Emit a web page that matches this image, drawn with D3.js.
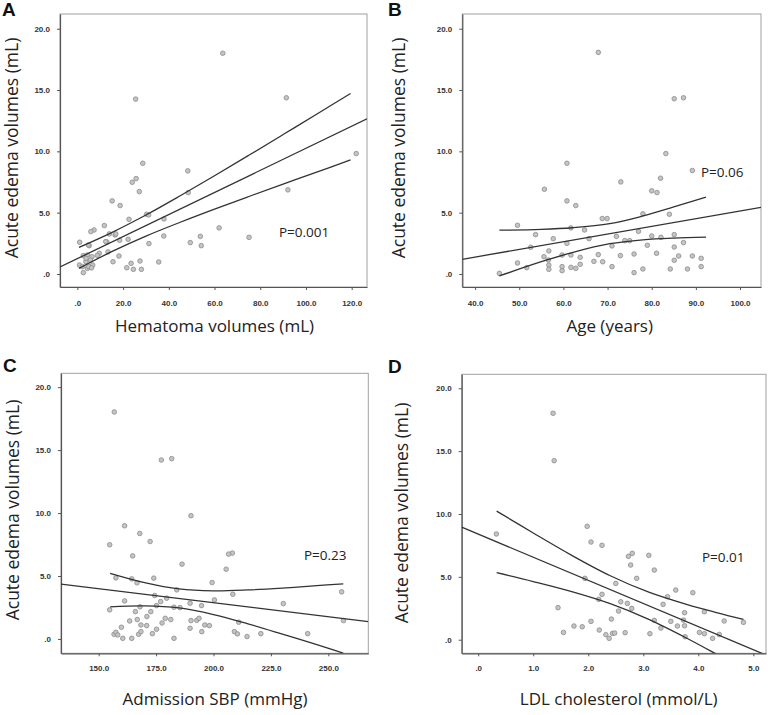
<!DOCTYPE html>
<html><head><meta charset="utf-8">
<script src="https://cdn.jsdelivr.net/npm/d3@7"></script>
<style>body{margin:0;background:#fff}svg{display:block}</style></head>
<body><svg id="chart" width="770" height="715"></svg>
<script>
// ---------------- DATA ----------------
// Panel A: Hematoma volumes (mL) vs acute edema volumes (mL)
const hematomaVol = [63.6,25.5,91.4,122,48.3,28.6,25.7,24.0,27.1,48.5,92.1,15.2,18.7,30.3,31.2,22.6,37.9,11.8,62.0,7.3,5.9,75.1,53.8,54.2,37.8,49.4,31.3,1.0,14.0,16.5,5.2,12.9,22.2,18.5,2.6,4.4,9.6,13.4,18.2,6.4,8.7,15.6,27.4,35.6,0.9,21.6,23.5,24.5,28.0,2.6,4.4,5.0,2.2,6.7,3.7,5.7,3.8,6.2,4.8,16.8,12.4];
const edemaA      = [18.0,14.26,14.37,9.82,8.41,9.03,7.78,7.48,6.72,6.64,6.86,5.96,5.58,4.87,4.82,4.46,4.49,3.95,3.76,3.59,3.46,2.99,3.07,2.31,3.1,2.56,2.48,2.59,3.27,3.18,2.31,2.61,2.83,2.75,1.5,1.55,1.69,1.8,1.47,1.41,1.52,1.0,1.06,0.98,0.73,0.51,0.87,0.38,0.38,0.11,0.46,0.6,0.6,0.73,1.0,1.14,1.28,0.5,2.37,3.27,2.64];
const fitA = [[-7.6,0.57],[126.7,12.65]];
const ciAx = [0.7,15,30,45,60,75,90,105,119.5];
const ciAhi = [2.17,3.38,4.81,6.38,8.01,9.68,11.37,13.07,14.72];
const ciAlo = [0.46,1.82,3.09,4.22,5.29,6.32,7.33,8.33,9.30];

// Panel B: Age (years)
const ageYears = [67.9,85.1,87.2,83.2,60.8,89.2,82.0,73.0,55.7,80.0,81.2,60.8,62.8,78.0,84.0,68.8,69.9,49.6,61.7,64.8,77.0,53.7,85.1,82.1,80.0,72.0,57.7,65.8,73.9,75.0,60.8,87.2,52.6,85.1,79.0,71.0,56.7,56.6,55.6,61.7,59.7,63.8,67.9,72.9,76.0,81.1,86.1,89.2,91.2,49.6,66.9,68.9,85.1,56.7,51.7,56.7,59.7,61.7,62.8,63.8,59.7,71.0,78.0,84.2,88.1,91.2,76.0,45.5];
const edemaB   = [18.07,14.29,14.37,9.82,9.03,8.44,7.81,7.51,6.91,6.78,6.64,5.96,5.58,4.9,4.87,4.52,4.52,3.97,3.76,3.59,3.48,3.21,3.21,2.99,3.1,3.07,2.88,2.88,2.72,2.72,2.5,2.56,2.18,2.2,2.34,2.29,1.88,1.14,1.41,1.55,1.55,1.36,1.58,1.5,1.63,1.69,1.47,1.47,1.28,0.9,1.03,1.0,1.12,0.73,0.52,0.38,0.6,0.54,0.46,0.79,0.27,0.6,0.41,0.41,0.41,0.6,0.11,0.05];
const fitB = [[37.1,1.2],[104.75,5.44]];
const ciBx = [45.5,55,62,70.5,78,85,92.3];
const ciBhi = [3.57,3.64,3.77,4.1,4.73,5.47,6.26];
const ciBlo = [-0.16,1.0,1.75,2.47,2.79,2.93,3.0];

// Panel C: Admission SBP (mmHg)
const sbp    = [156.8,177.3,181.8,190.2,161.3,167.9,172.4,208.2,206.6,154.8,164.8,186.3,205.5,157.5,164.4,166.7,174.0,199.4,184.0,174.4,208.4,255.8,179.6,177.0,200.4,161.3,189.8,194.8,230.4,175.2,168.0,185.4,182.8,154.8,166.0,172.7,166.8,171.0,163.5,159.9,179.0,181.4,168.4,170.9,177.6,190.2,192.7,193.7,196.2,198.2,211.0,256.6,175.2,189.8,194.9,173.4,167.4,168.4,156.7,157.5,158.3,160.5,164.4,182.8,209.1,210.4,214.6,220.6,241.0];
const edemaC = [18.03,14.21,14.32,9.79,8.99,8.38,7.74,6.82,6.74,7.48,6.6,5.94,5.54,4.85,4.77,4.46,4.83,4.48,3.9,3.45,3.55,3.74,3.24,2.97,3.1,3.02,2.84,2.65,2.81,2.65,2.55,2.49,2.52,2.31,2.17,2.17,1.54,1.78,1.43,0.93,1.64,1.54,1.11,1.06,1.27,1.46,1.48,1.64,1.11,1.06,1.33,1.46,0.77,0.85,0.58,0.42,0.37,0.58,0.37,0.53,0.32,0.05,0.05,0.05,0.58,0.4,0.19,0.42,0.42];
const fitC = [[133.6,4.35],[267.4,1.38]];
const ciCx = [155,170,185,200,215,230,245,256.5];
const ciChi = [5.21,4.47,3.97,3.82,3.89,4.04,4.23,4.38];
const ciClo = [2.55,2.62,2.46,1.94,1.20,0.38,-0.46,-1.12];

// Panel D: LDL cholesterol (mmol/L)
const ldl    = [1.36,1.38,0.33,1.98,2.05,2.25,2.73,2.8,2.77,3.10,3.2,2.88,1.94,2.5,3.59,3.9,3.44,2.25,2.19,2.59,2.71,3.36,1.45,2.79,2.55,3.75,4.11,2.42,2.05,3.2,3.5,3.73,4.47,4.82,1.74,1.89,2.2,3.62,3.75,3.32,1.55,2.44,2.48,2.67,3.12,4.02,4.11,2.32,2.38,3.76,4.26,4.38];
const edemaD = [18.01,14.24,8.41,9.02,7.77,7.51,6.63,6.87,5.94,6.71,5.54,4.88,4.88,4.48,3.95,3.74,3.42,3.61,3.21,3.02,2.89,2.81,2.55,2.49,2.28,2.15,2.23,1.64,1.46,1.54,1.46,1.56,1.49,1.38,1.09,1.03,0.77,1.09,1.11,0.93,0.58,0.5,0.53,0.56,0.48,0.58,0.48,0.4,0.11,0.24,0.11,0.42];
const fitD = [[-0.30,8.95],[5.23,-1.22]];
const ciDxHi = [0.335,1.0,1.7,2.4,3.1,3.8,4.33,4.82];
const ciDhi  = [10.23,8.49,6.71,5.09,3.78,2.79,2.16,1.62];
const ciDxLo = [0.335,1.0,1.7,2.4,3.1,3.8,4.33,4.6];
const ciDlo  = [5.33,4.63,3.83,2.87,1.62,0.10,-1.15,-1.8];

// Tick labels
const yTicks = [0,5,10,15,20];
const xTicksA = [0,20,40,60,80,100,120];
const xTicksB = [40,50,60,70,80,90,100];
const xTicksC = [150,175,200,225,250];
const xTicksD = [0,1,2,3,4,5];

// ---------------- LAYOUT ----------------
const panels = [
  {id:'A', letter:[2,16], frame:[60,367,14,287], xd:[-7.6,126.7], yd:[-1.06,21.2],
   xs:hematomaVol, ys:edemaA, fit:fitA, hi:[ciAx,ciAhi], lo:[ciAx,ciAlo], xt:xTicksA,
   xlabel:'Hematoma volumes (mL)', xlab:[214.5,332], ylab:[18,148], p:'P=0.001', pp:[279,237], xpad:10},
  {id:'B', letter:[388,16], frame:[462.3,761,14,287], xd:[37.1,104.75], yd:[-1.06,21.2],
   xs:ageYears, ys:edemaB, fit:fitB, hi:[ciBx,ciBhi], lo:[ciBx,ciBlo], xt:xTicksB,
   xlabel:'Age (years)', xlab:[609.7,332], ylab:[405,148], p:'P=0.06', pp:[701,177], xpad:10},
  {id:'C', letter:[3,372], frame:[61,368.3,373.3,653.3], xd:[133.6,267.4], yd:[-1.14,21.1],
   xs:sbp, ys:edemaC, fit:fitC, hi:[ciCx,ciChi], lo:[ciCx,ciClo], xt:xTicksC,
   xlabel:'Admission SBP (mmHg)', xlab:[215,705], ylab:[19,510], p:'P=0.23', pp:[304,560], xpad:9},
  {id:'D', letter:[388,373], frame:[461.7,766,374.3,653.3], xd:[-0.30,5.23], yd:[-1.08,21.11],
   xs:ldl, ys:edemaD, fit:fitD, hi:[ciDxHi,ciDhi], lo:[ciDxLo,ciDlo], xt:xTicksD,
   xlabel:'LDL cholesterol (mmol/L)', xlab:[618.7,705], ylab:[408,513], p:'P=0.01', pp:[702,562], xpad:9}
];

const svg = d3.select('#chart');
svg.append('rect').attr('width',770).attr('height',715).attr('fill','#fff');
const fmt = d => d === 0 ? '.0' : d3.format('.1f')(d);
const labelFont = "'Open Sans', 'Noto Sans', sans-serif";
const defs = svg.append('defs');

panels.forEach((P, i) => {
  const [x0,x1,y0,y1] = P.frame;
  const x = d3.scaleLinear().domain(P.xd).range([x0,x1]);
  const y = d3.scaleLinear().domain(P.yd).range([y1,y0]);
  const g = svg.append('g');

  // frame
  g.append('rect').attr('x',x0).attr('y',y0).attr('width',x1-x0).attr('height',y1-y0)
    .attr('fill','none').attr('stroke','#a0a0a0').attr('stroke-width',1);

  // axes
  const ya = g.append('g').attr('transform',`translate(${x0},0)`)
    .call(d3.axisLeft(y).tickValues(yTicks).tickFormat(fmt).tickSize(3).tickSizeOuter(0).tickPadding(7));
  const xa = g.append('g').attr('transform',`translate(0,${y1})`)
    .call(d3.axisBottom(x).tickValues(P.xt).tickFormat(fmt).tickSize(3).tickSizeOuter(0).tickPadding(P.xpad));
  [ya,xa].forEach(a => {
    a.select('.domain').attr('stroke','#555').attr('stroke-width',1.2);
    a.selectAll('.tick line').attr('stroke','#555');
    a.selectAll('.tick text').attr('fill','#333').style('font-family',"'Liberation Sans', Arial, sans-serif")
      .style('font-size','8px').style('font-weight','bold');
  });

  // clip
  const cid = 'clip'+P.id;
  defs.append('clipPath').attr('id',cid).append('rect')
    .attr('x',x0).attr('y',y0).attr('width',x1-x0).attr('height',y1-y0);
  const plot = g.append('g').attr('clip-path',`url(#${cid})`);

  // points
  plot.selectAll('circle').data(P.xs.map((v,k)=>[v,P.ys[k]])).join('circle')
    .attr('cx',d=>x(d[0])).attr('cy',d=>y(d[1])).attr('r',2.3)
    .attr('fill','#c4c4c4').attr('stroke','#8c8c8c').attr('stroke-width',0.8);

  // fit line
  const line = d3.line().x(d=>x(d[0])).y(d=>y(d[1]));
  plot.append('path').attr('d',line(P.fit)).attr('fill','none').attr('stroke','#333').attr('stroke-width',1.3);
  const curve = d3.line().x(d=>x(d[0])).y(d=>y(d[1])).curve(d3.curveCatmullRom);
  [P.hi,P.lo].forEach(([xs,vs]) => {
    plot.append('path').attr('d',curve(xs.map((v,k)=>[v,vs[k]])))
      .attr('fill','none').attr('stroke','#333').attr('stroke-width',1.3);
  });

  // texts
  svg.append('text').attr('x',P.letter[0]).attr('y',P.letter[1]).text(P.id)
    .style('font-family',"'Liberation Sans', Arial, sans-serif").style('font-weight','bold').style('font-size','19px').attr('fill','#111');
  svg.append('text').attr('x',P.xlab[0]).attr('y',P.xlab[1]).attr('text-anchor','middle').text(P.xlabel)
    .style('font-family',labelFont).style('font-size','17px').attr('fill','#222');
  svg.append('text').attr('transform',`translate(${P.ylab[0]},${P.ylab[1]}) rotate(-90)`).attr('text-anchor','middle')
    .text('Acute edema volumes (mL)').style('font-family',labelFont).style('font-size','17.5px').attr('fill','#222');
  svg.append('text').attr('x',P.pp[0]).attr('y',P.pp[1]).text(P.p)
    .style('font-family',labelFont).style('font-size','13.5px').attr('fill','#222');
});
</script>
</body></html>
